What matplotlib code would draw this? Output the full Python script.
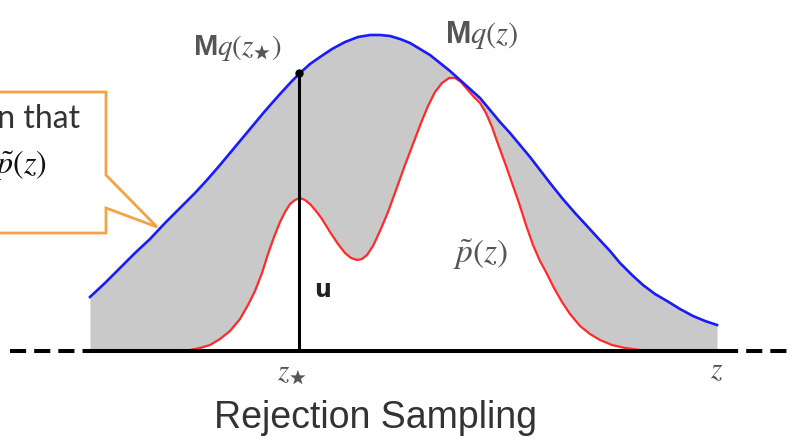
import numpy as np
import matplotlib.pyplot as plt
from matplotlib.patches import Polygon

plt.rcParams['mathtext.fontset'] = 'custom'
plt.rcParams['mathtext.rm'] = 'STIXGeneral'
plt.rcParams['mathtext.it'] = 'STIXGeneral:italic'
plt.rcParams['mathtext.bf'] = 'Liberation Sans:bold'
plt.rcParams['mathtext.fallback'] = 'stix'

# envelope M*q(z): positions along z and heights above the axis
blue_z = [90, 105, 120, 135, 150, 165, 180, 195, 207, 220, 235, 250, 265, 280, 292,
          300, 310, 320, 332, 345, 358, 370, 380, 390, 400, 410, 420, 430, 440, 450,
          460, 470, 480, 490, 500, 510, 520, 530, 540, 550, 562, 575, 587, 597, 610,
          620, 632, 643, 655, 667, 680, 693, 705, 717]
blue_h = [54, 68, 83, 98, 112, 128, 143, 158, 171, 186, 204, 222, 240, 257, 270,
          278, 287, 294, 302, 309, 314, 316, 316, 315, 312, 308, 302, 296, 288, 280,
          271, 262, 253, 241, 229, 218, 206, 194, 181, 168, 153, 138, 125, 114, 100,
          88, 76, 66, 57, 50, 42, 35, 30, 26]

# unnormalised target p~(z)
red_z = [180, 190, 200, 210, 220, 230, 240, 248, 255, 262, 268, 274, 280, 285, 290,
         295, 300, 305, 310, 316, 322, 330, 338, 345, 351, 357, 362, 367, 373, 380,
         388, 396, 405, 413, 421, 428, 435, 442, 449, 455, 461, 467, 474, 480, 486,
         492, 498, 505, 512, 519, 526, 533, 540, 547, 554, 562, 570, 580, 590, 600,
         612, 625, 640, 660]
red_h = [0, 1, 3, 6, 12, 20, 32, 46, 60, 78, 97, 114, 129, 139, 147,
         151, 153, 151, 147, 140, 132, 119, 107, 98, 93, 91, 92, 96, 105, 120,
         139, 161, 186, 207, 228, 245, 259, 268, 273, 273, 269, 262, 254, 248, 238,
         224, 207, 188, 168, 148, 126, 106, 90, 77, 63, 49, 37, 25, 17, 11,
         6, 3, 1, 0]

z_star = 299
u_top = 278

fig = plt.figure(figsize=(7.92, 4.45), dpi=100)
ax = fig.add_axes([0, 0, 1, 1])
ax.set_xlim(0, 792)
ax.set_ylim(-94, 351)
ax.axis('off')

# grey area = rejected region between envelope and target
ax.fill_between(blue_z, blue_h, 0, color='#c9c9c9', lw=0, zorder=1)
ax.fill_between(red_z, red_h, 0, color='white', lw=0, zorder=2)

ax.plot(red_z, red_h, color='#ff2a2a', lw=1.6, zorder=3)
ax.plot(blue_z, blue_h, color='#1a1aff', lw=1.9, zorder=4)

# z axis, dashed beyond the plotted range
ax.plot([88, 722], [0, 0], color='black', lw=2.9, solid_capstyle='butt', zorder=5)
ax.plot([10, 88], [0, 0], color='black', lw=2.9, ls=(0, (4, 2)), zorder=5)
ax.plot([722, 792], [0, 0], color='black', lw=2.9, ls=(0, (4, 2)), zorder=5)

# sample z* and its uniform height u
ax.plot([z_star, z_star], [0, u_top], color='black', lw=2.2, zorder=6)
ax.plot(z_star, u_top, 'o', color='black', ms=5, zorder=6)

txt = '#555555'
ax.text(238, 303, r'$\mathbf{M}q(z_{\bigstar})$', fontsize=21, color=txt, ha='center', va='center')
ax.text(482, 316, r'$\mathbf{M}q(z)$', fontsize=22, color=txt, ha='center', va='center')
ax.text(480, 96, r'$\tilde{p}(z)$', fontsize=24, color=txt, ha='center', va='center')
ax.text(323, 61, 'u', fontsize=17, fontweight='bold', color='#222222', ha='center', va='center')
ax.text(292, -23, r'$z_{\bigstar}$', fontsize=21, color=txt, ha='center', va='center')
ax.text(717, -19, r'$z$', fontsize=21, color=txt, ha='center', va='center')

ax.text(375, -67, 'Rejection Sampling', fontsize=27, color='#333333',
        family='Liberation Sans', ha='center', va='center')

# speech-bubble note on the left
bubble = Polygon([(-10, 259), (106, 259), (106, 176), (157, 124), (106, 143),
                  (106, 118), (-10, 118)], closed=True, fc='white', ec='#f2a444',
                 lw=2, zorder=8)
ax.add_patch(bubble)
ax.text(80, 232, 'Choose a function that', fontsize=23, color='#333333',
        family='Lato', ha='right', va='center', zorder=9)
ax.text(47, 186, r'$\mathbf{M}q(z) \geq \tilde{p}(z)$', fontsize=23, color='#111111',
        ha='right', va='center', zorder=9)

fig.savefig('out.png', dpi=100)
